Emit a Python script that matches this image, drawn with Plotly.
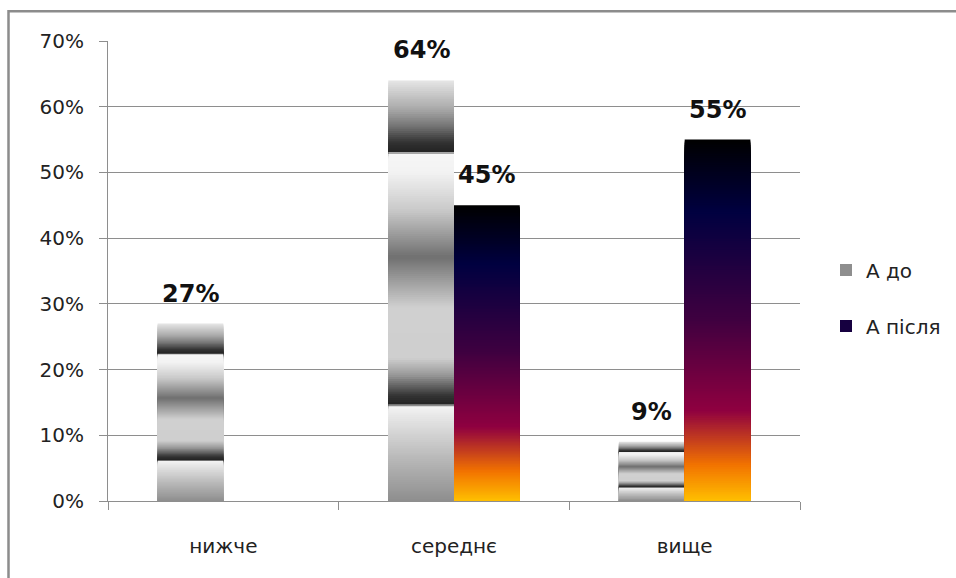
import plotly.graph_objects as go

# ---- data ----
categories = ["нижче", "середнє", "вище"]
series_names = ["А до", "А після"]
a_before = [0.27, 0.64, 0.09]
a_after = [None, 0.45, 0.55]
y_ticks = [0.0, 0.1, 0.2, 0.3, 0.4, 0.5, 0.6, 0.7]

# ---- gradient definitions (fraction of bar height from bottom) ----
gray_stops = [
    (0.00, 0x8e), (0.10, 0xb8), (0.20, 0xe6), (0.226, 0xf4),
    (0.229, 0x22), (0.25, 0x33), (0.30, 0x99), (0.34, 0xcf),
    (0.46, 0xd0), (0.58, 0x70), (0.69, 0xc8), (0.78, 0xf2),
    (0.826, 0xf6), (0.830, 0x22), (0.853, 0x33), (0.893, 0x77),
    (0.933, 0xaa), (1.00, 0xe6),
]
sunset_stops = [
    (0.00, (0xFF, 0xBF, 0x00)), (0.10, (0xF2, 0x73, 0x00)),
    (0.25, (0x8F, 0x00, 0x40)), (0.50, (0x40, 0x00, 0x40)),
    (0.80, (0x00, 0x00, 0x40)), (1.00, (0x00, 0x00, 0x00)),
]


def interp(stops, f):
    for (f0, c0), (f1, c1) in zip(stops[:-1], stops[1:]):
        if f0 <= f <= f1:
            t = 0 if f1 == f0 else (f - f0) / (f1 - f0)
            if isinstance(c0, tuple):
                return tuple(round(a + (b - a) * t) for a, b in zip(c0, c1))
            v = round(c0 + (c1 - c0) * t)
            return (v, v, v)
    c = stops[-1][1]
    return c if isinstance(c, tuple) else (c, c, c)


def gray_color(f):
    return "rgb(%d,%d,%d)" % interp(gray_stops, f)


def sunset_color(f):
    return "rgb(%d,%d,%d)" % interp(sunset_stops, f)


N = 200
fig = go.Figure()

series = [
    (series_names[0], a_before, gray_color, 0.62),
    (series_names[1], a_after, sunset_color, 0.70),
]

for name, vals, cfun, legend_f in series:
    legend_k = max(1, min(N, int(legend_f * N)))
    # draw tallest first, shorter ones on top -> gradient without seams
    for k in range(N, 0, -1):
        f = (k - 0.5) / N
        ys = [None if v is None else v * k / N for v in vals]
        fig.add_trace(go.Bar(
            x=categories, y=ys, name=name,
            offsetgroup=name, legendgroup=name,
            showlegend=(k == legend_k),
            marker=dict(color=cfun(f), line=dict(width=0)),
            hoverinfo="skip",
        ))

# ---- layout geometry ----
W, H = 956, 578
ml, mr, mt, mb = 108, 156, 41, 77
plot_w = W - ml - mr
plot_h = H - mt - mb
bargap = 0.43
bar_px = (plot_w / len(categories)) * (1 - bargap) / 2

# data labels
annotations = []
for si, vals in enumerate([a_before, a_after]):
    shift = (si - 0.5) * bar_px
    for cat, v in zip(categories, vals):
        if v is None:
            continue
        annotations.append(dict(
            x=cat, y=v, xref="x", yref="y", text="%d%%" % round(v * 100),
            showarrow=False, xanchor="center", yanchor="bottom",
            xshift=shift, yshift=14,
            font=dict(family="DejaVu Sans", size=24, color="#111", weight="bold"),
        ))

frame_color = "#8c8c8c"
shapes = [dict(
    type="rect", xref="paper", yref="paper",
    x0=(8.5 - ml) / plot_w, x1=(W + 40 - ml) / plot_w,
    y0=-(mb + 40) / plot_h, y1=(plot_h + mt - 11.3) / plot_h,
    line=dict(color=frame_color, width=2.5), fillcolor="rgba(0,0,0,0)",
    layer="below",
)]

grid_color = "#8e8e8e"
fig.update_layout(
    width=W, height=H,
    margin=dict(l=ml, r=mr, t=mt, b=mb, autoexpand=False),
    paper_bgcolor="white", plot_bgcolor="white",
    barmode="group", bargap=bargap, bargroupgap=0,
    font=dict(family="DejaVu Sans", size=20, color="#222"),
    showlegend=True,
    legend=dict(
        x=(826 - ml) / plot_w, y=(mt + plot_h - 298) / plot_h,
        xanchor="left", yanchor="middle",
        traceorder="grouped", tracegroupgap=27,
        font=dict(family="DejaVu Sans", size=20, color="#222"),
        bgcolor="rgba(0,0,0,0)",
    ),
    annotations=annotations,
    shapes=shapes,
    xaxis=dict(
        type="category", showline=True, linecolor=grid_color, linewidth=1,
        ticks="outside", tickson="boundaries", ticklen=8, tickcolor=grid_color,
        showgrid=False, ticklabelstandoff=27, automargin=False,
    ),
    yaxis=dict(
        range=[0, 0.7], tickvals=y_ticks, tickformat=".0%",
        showline=True, linecolor=grid_color, linewidth=1,
        ticks="outside", ticklen=8, tickcolor=grid_color,
        showgrid=True, gridcolor=grid_color, gridwidth=1,
        zeroline=False, ticklabelstandoff=11, automargin=False,
    ),
)

fig.write_html("out.html")
